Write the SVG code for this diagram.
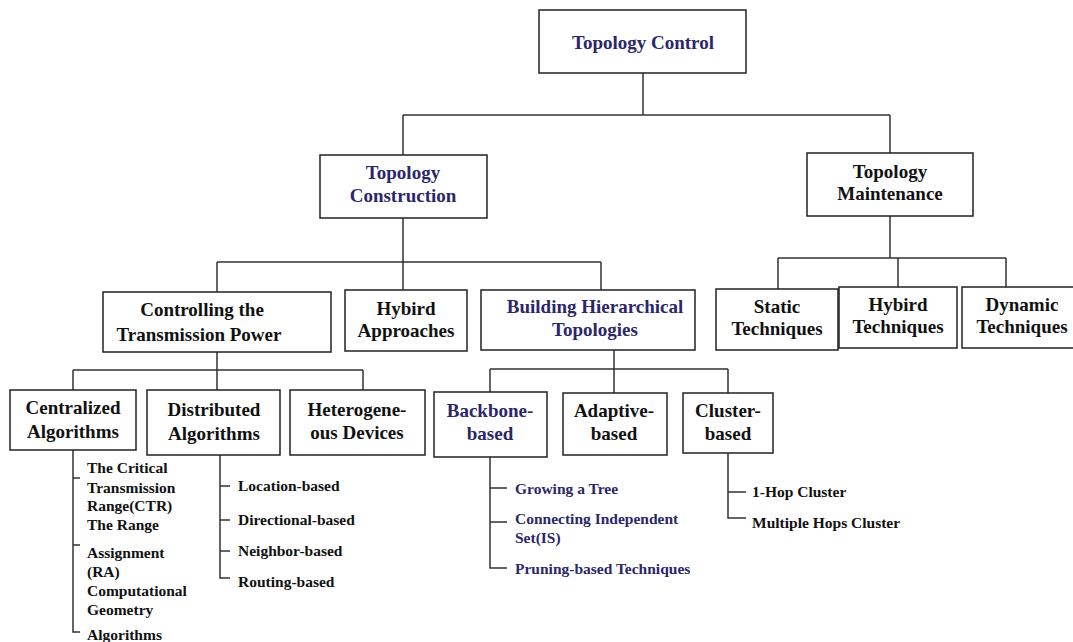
<svg xmlns="http://www.w3.org/2000/svg" width="1073" height="642" viewBox="0 0 1073 642">
<style>
rect{fill:#fff;stroke:#222;stroke-width:1.5}
text{font-family:"Liberation Serif","Times New Roman",serif;font-weight:bold;fill:#111}
.n{font-size:19px;text-anchor:middle}
.s{font-size:15.5px}
.b{fill:#2b2769}
#conn path{fill:none;stroke:#333;stroke-width:1.5}
</style>
<rect width="1073" height="642" style="fill:#fff;stroke:none"/>
<g id="conn">
<path d="M643 73V115M403 115H890M403 115V155M890 115V153"/>
<path d="M403 218V262M217 262H601M217 262V292M403 262V290M601 262V290"/>
<path d="M890 216V258M778 258H1006M778 258V289M898 258V287M1006 258V287"/>
<path d="M217 352V370M73 370H363M73 370V390M217 370V390M363 370V390"/>
<path d="M614 350V369M490 369H728M490 369V392M614 369V393M728 369V393"/>
<path d="M73 450V632H80M73 478H80M73 545H80"/>
<path d="M220 455V578H230M220 486H230M220 520H230M220 551H230"/>
<path d="M490 457V568H507M490 488H507M490 522H507"/>
<path d="M728 453V518H746M728 492H746"/>
</g>
<g id="n-control"><rect x="539" y="10" width="207" height="63"/><text class="n b" x="643" y="49">Topology Control</text></g>
<g id="n-construction"><rect x="320" y="155" width="167" height="63"/><text class="n b" x="403" y="179">Topology</text><text class="n b" x="403" y="202">Construction</text></g>
<g id="n-maintenance"><rect x="807" y="153" width="166" height="63"/><text class="n" x="890" y="178">Topology</text><text class="n" x="890" y="200">Maintenance</text></g>
<g id="n-ctp"><rect x="103" y="292" width="228" height="60"/><text class="n" x="202" y="316">Controlling the</text><text class="n" x="199" y="341">Transmission Power</text></g>
<g id="n-hybapp"><rect x="345" y="290" width="122" height="61"/><text class="n" x="406" y="315">Hybird</text><text class="n" x="406" y="337">Approaches</text></g>
<g id="n-bht"><rect x="481" y="290" width="214" height="60"/><text class="n b" x="595" y="313">Building Hierarchical</text><text class="n b" x="595" y="336">Topologies</text></g>
<g id="n-static"><rect x="716" y="289" width="122" height="61"/><text class="n" x="777" y="313">Static</text><text class="n" x="777" y="335">Techniques</text></g>
<g id="n-hybtech"><rect x="839" y="287" width="118" height="61"/><text class="n" x="898" y="311">Hybird</text><text class="n" x="898" y="333">Techniques</text></g>
<g id="n-dynamic"><rect x="962" y="287" width="115" height="61"/><text class="n" x="1022" y="311">Dynamic</text><text class="n" x="1022" y="333">Techniques</text></g>
<g id="n-central"><rect x="10" y="390" width="126" height="60"/><text class="n" x="73" y="414">Centralized</text><text class="n" x="73" y="438">Algorithms</text></g>
<g id="n-distrib"><rect x="147" y="390" width="133" height="65"/><text class="n" x="214" y="416">Distributed</text><text class="n" x="214" y="440">Algorithms</text></g>
<g id="n-hetero"><rect x="290" y="390" width="135" height="65"/><text class="n" x="357" y="416">Heterogene-</text><text class="n" x="357" y="439">ous Devices</text></g>
<g id="n-backbone"><rect x="434" y="392" width="113" height="65"/><text class="n b" x="490" y="417">Backbone-</text><text class="n b" x="490" y="440">based</text></g>
<g id="n-adaptive"><rect x="563" y="393" width="104" height="62"/><text class="n" x="614" y="417">Adaptive-</text><text class="n" x="614" y="440">based</text></g>
<g id="n-cluster"><rect x="683" y="393" width="90" height="60"/><text class="n" x="728" y="417">Cluster-</text><text class="n" x="728" y="440">based</text></g>
<g id="l-central">
<text class="s" x="87" y="473">The Critical</text>
<text class="s" x="87" y="493">Transmission</text>
<text class="s" x="87" y="511">Range(CTR)</text>
<text class="s" x="87" y="530">The Range</text>
<text class="s" x="87" y="558">Assignment</text>
<text class="s" x="87" y="577">(RA)</text>
<text class="s" x="87" y="596">Computational</text>
<text class="s" x="87" y="615">Geometry</text>
<text class="s" x="87" y="640">Algorithms</text>
</g>
<g id="l-distrib">
<text class="s" x="238" y="491">Location-based</text>
<text class="s" x="238" y="525">Directional-based</text>
<text class="s" x="238" y="556">Neighbor-based</text>
<text class="s" x="238" y="587">Routing-based</text>
</g>
<g id="l-backbone">
<text class="s b" x="515" y="494">Growing a Tree</text>
<text class="s b" x="515" y="524">Connecting Independent</text>
<text class="s b" x="515" y="543">Set(IS)</text>
<text class="s b" x="515" y="574">Pruning-based Techniques</text>
</g>
<g id="l-cluster">
<text class="s" x="752" y="497">1-Hop Cluster</text>
<text class="s" x="752" y="528">Multiple Hops Cluster</text>
</g>
</svg>
